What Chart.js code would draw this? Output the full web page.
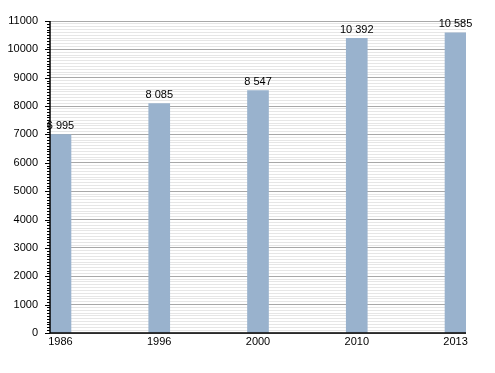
<!DOCTYPE html>
<html>
<head>
<meta charset="utf-8">
<script src="https://cdn.jsdelivr.net/npm/chart.js@4.4.0/dist/chart.umd.min.js"></script>
<style>
  html, body { margin: 0; padding: 0; background: #fff; }
  #wrap { width: 495px; height: 373px; }
</style>
</head>
<body>
<div id="wrap"><canvas id="popChart" width="495" height="373"></canvas></div>
<script>
// Data
const years = ['1986', '1996', '2000', '2010', '2013'];
const population = [6995, 8085, 8547, 10392, 10585];
const yMax = 11000;
const majorStep = 1000;
const minorStep = 100;

const BAR_COLOR = '#99b2cd';
const FONT = '11px "Liberation Sans", Arial, sans-serif';

function fmt(n) {
    return String(n).replace(/\B(?=(\d{3})+(?!\d))/g, ' ');
}

// tick marks on the left axis, long for thousands, short for hundreds
const axisTicks = {
    id: 'axisTicks',
    afterDraw(chart) {
        const ctx = chart.ctx;
        const y = chart.scales.y;
        const left = chart.chartArea.left;
        ctx.save();
        ctx.strokeStyle = '#000';
        ctx.lineWidth = 1;
        for (let v = 0; v <= yMax; v += minorStep) {
            const py = Math.round(y.getPixelForValue(v)) + 0.5;
            const len = v % majorStep === 0 ? 5 : 3;
            ctx.beginPath();
            ctx.moveTo(left - len, py);
            ctx.lineTo(left, py);
            ctx.stroke();
        }
        // axis lines
        ctx.lineWidth = 1.5;
        ctx.beginPath();
        ctx.moveTo(left, chart.chartArea.top);
        ctx.lineTo(left, chart.chartArea.bottom);
        ctx.lineTo(chart.chartArea.right, chart.chartArea.bottom);
        ctx.stroke();
        ctx.restore();
    }
};

// value labels above bars
const valueLabels = {
    id: 'valueLabels',
    afterDatasetsDraw(chart) {
        const ctx = chart.ctx;
        const meta = chart.getDatasetMeta(0);
        ctx.save();
        ctx.font = FONT;
        ctx.fillStyle = '#000';
        ctx.textAlign = 'center';
        ctx.textBaseline = 'bottom';
        meta.data.forEach((bar, i) => {
            ctx.fillText(fmt(population[i]), bar.x, bar.y - 3);
        });
        ctx.restore();
    }
};

const half = 10.5 / 99;

const chart = new Chart(document.getElementById('popChart'), {
    type: 'bar',
    data: {
        datasets: [{
            data: population.map((v, i) => ({ x: i, y: v })),
            backgroundColor: BAR_COLOR,
            borderWidth: 0,
            barThickness: 21
        }]
    },
    options: {
        responsive: false,
        animation: false,
        layout: { padding: { top: 21, right: 29, bottom: 0, left: 0 } },
        plugins: { legend: { display: false }, tooltip: { enabled: false } },
        scales: {
            x: {
                type: 'linear',
                min: -half,
                max: years.length - 1 + half,
                offset: false,
                grid: { display: false, drawTicks: false },
                border: { display: false },
                afterBuildTicks(s) {
                    s.ticks = years.map((_, i) => ({ value: i }));
                },
                afterFit(s) { s.height = 40; },
                ticks: {
                    autoSkip: false,
                    padding: 2,
                    color: '#000',
                    font: { family: '"Liberation Sans", Arial, sans-serif', size: 11 },
                    callback: (v) => years[v] ?? ''
                }
            },
            y: {
                min: 0,
                max: yMax,
                grid: {
                    drawTicks: false,
                    color: (c) => (c.tick && c.tick.value % majorStep === 0) ? '#a8a8a8' : '#e6e6e6',
                    lineWidth: 1
                },
                border: { display: false },
                afterFit(s) { s.width = 50; },
                ticks: {
                    stepSize: minorStep,
                    autoSkip: false,
                    padding: 12,
                    color: '#000',
                    font: { family: '"Liberation Sans", Arial, sans-serif', size: 11 },
                    callback: (v) => v % majorStep === 0 ? String(v) : ''
                }
            }
        }
    },
    plugins: [axisTicks, valueLabels]
});
</script>
</body>
</html>
